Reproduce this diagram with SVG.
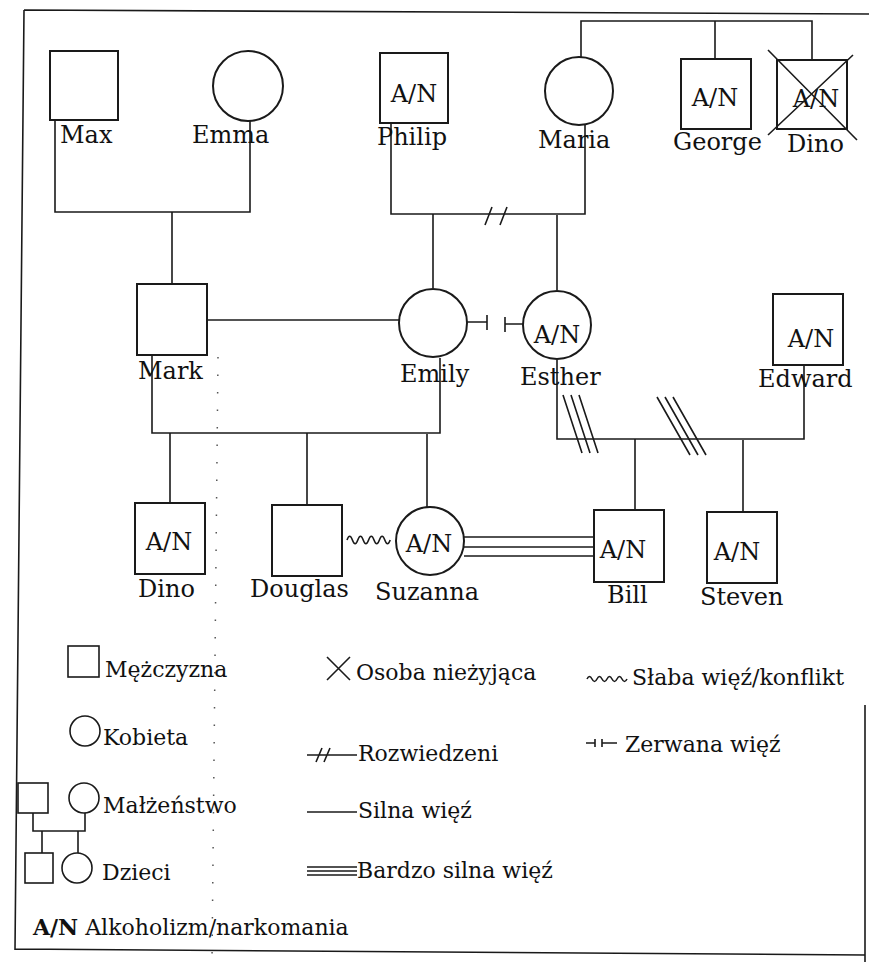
<svg xmlns="http://www.w3.org/2000/svg" width="869" height="965" viewBox="0 0 869 965">
<style>
.s{fill:none;stroke:#1a1a1a;stroke-width:2}
.l{fill:none;stroke:#1a1a1a;stroke-width:1.6}
.t{font-family:"DejaVu Serif","Liberation Serif",serif;font-size:24px;fill:#111}
.g{font-family:"DejaVu Serif","Liberation Serif",serif;font-size:22px;fill:#111}
.m{text-anchor:middle}
</style>
<rect width="869" height="965" fill="#fff"/>
<g id="frame">
<path class="l" d="M24,10 L869,14 M24,10 L15,950 M15,949 L865,955 M865,705 L865,962"/>
<path d="M218,357 L212,960" fill="none" stroke="#555" stroke-width="1.5" stroke-dasharray="1.5,16"/>
</g>
<g id="connectors">
<path class="l" d="M55,120 V212 H250 V121 M172,212 V284"/>
<path class="l" d="M391,123 V214 H585 V125 M433,214 V288 M557,215 V290"/>
<path class="l" d="M492,207 L485,225 M507,207 L500,225"/>
<path class="l" d="M581,57 V21 H812 V60 M715,21 V59"/>
<path class="l" d="M207,320 H399"/>
<path class="l" d="M467,322 H487 M487,315 V330 M505,317 V332 M505,324 H523"/>
<path class="l" d="M152,355 V433 H440 V358 M170,433 V503 M307,433 V505 M427,434 V507"/>
<path class="l" d="M557,360 V439 H804 V365 M635,439 V510 M743,440 V512"/>
<path class="l" d="M563,395 L582,453 M571,395 L590,453 M579,395 L598,453"/>
<path class="l" d="M657,397 L690,455 M665,397 L698,455 M673,397 L706,455"/>
<path class="l" d="M347,540 q2.7,-7.5 5.4,0 t5.4,0 t5.4,0 t5.4,0 t5.4,0 t5.4,0 t5.4,0 t5.4,0"/>
<path class="l" d="M464,537 H594 M464,547 H594 M464,556 H594"/>
</g>
<g id="max"><rect class="s" x="50" y="51" width="68" height="69"/><text class="t" x="60" y="143">Max</text></g>
<g id="emma"><circle class="s" cx="248" cy="86" r="35"/><text class="t" x="192" y="143">Emma</text></g>
<g id="philip"><rect class="s" x="380" y="53" width="68" height="70"/><text class="t m" x="414" y="102">A/N</text><text class="t" x="377" y="145">Philip</text></g>
<g id="maria"><circle class="s" cx="579" cy="91" r="34"/><text class="t" x="538" y="148">Maria</text></g>
<g id="george"><rect class="s" x="681" y="59" width="70" height="70"/><text class="t m" x="715" y="106">A/N</text><text class="t" x="673" y="150">George</text></g>
<g id="dino-deceased"><rect class="s" x="777" y="60" width="70" height="69"/><text class="t m" x="816" y="107">A/N</text><path class="l" d="M768,50 L857,140 M853,55 L768,135"/><text class="t" x="787" y="152">Dino</text></g>
<g id="mark"><rect class="s" x="137" y="284" width="70" height="71"/><text class="t" x="138" y="379">Mark</text></g>
<g id="emily"><circle class="s" cx="433" cy="323" r="34"/><text class="t" x="400" y="382">Emily</text></g>
<g id="esther"><circle class="s" cx="557" cy="325" r="34"/><text class="t m" x="557" y="343">A/N</text><text class="t" x="520" y="385">Esther</text></g>
<g id="edward"><rect class="s" x="773" y="294" width="70" height="71"/><text class="t m" x="811" y="347">A/N</text><text class="t" x="758" y="387">Edward</text></g>
<g id="dino"><rect class="s" x="135" y="503" width="70" height="71"/><text class="t m" x="169" y="550">A/N</text><text class="t" x="138" y="597">Dino</text></g>
<g id="douglas"><rect class="s" x="272" y="505" width="70" height="71"/><text class="t" x="250" y="597">Douglas</text></g>
<g id="suzanna"><circle class="s" cx="430" cy="541" r="34"/><text class="t m" x="429" y="552">A/N</text><text class="t" x="375" y="600">Suzanna</text></g>
<g id="bill"><rect class="s" x="594" y="510" width="70" height="72"/><text class="t m" x="623" y="558">A/N</text><text class="t" x="607" y="603">Bill</text></g>
<g id="steven"><rect class="s" x="707" y="512" width="70" height="71"/><text class="t m" x="737" y="560">A/N</text><text class="t" x="700" y="605">Steven</text></g>
<g id="legend">
<rect class="l" x="68" y="646" width="31" height="31"/><text class="g" x="105" y="677">Mężczyzna</text>
<circle class="l" cx="85" cy="731" r="15"/><text class="g" x="103" y="745">Kobieta</text>
<rect class="l" x="18" y="783" width="30" height="30"/><circle class="l" cx="84" cy="798" r="15"/>
<path class="l" d="M33,813 V831 H85 V813 M42,831 V853 M78,831 V853"/>
<text class="g" x="103" y="813">Małżeństwo</text>
<rect class="l" x="25" y="853" width="28" height="30"/><circle class="l" cx="77" cy="868" r="15"/>
<text class="g" x="102" y="880">Dzieci</text>
<text class="g" x="33" y="935"><tspan font-weight="bold">A/N</tspan> Alkoholizm/narkomania</text>
<path class="l" d="M327,657 L350,680 M350,657 L327,680"/><text class="g" x="356" y="680">Osoba nieżyjąca</text>
<path class="l" d="M307,755 H357 M322,748 L316,762 M330,748 L324,762"/><text class="g" x="358" y="761">Rozwiedzeni</text>
<path class="l" d="M307,812 H357"/><text class="g" x="358" y="818">Silna więź</text>
<path class="l" d="M307,867 H357 M307,871 H357 M307,875 H357"/><text class="g" x="357" y="878">Bardzo silna więź</text>
<path class="l" d="M587,679 q2.5,-5 5,0 t5,0 t5,0 t5,0 t5,0 t5,0 t5,0 t5,0"/><text class="g" x="632" y="685">Słaba więź/konflikt</text>
<path class="l" d="M586,743 H595 M595,739 V747 M602,739 V747 M602,743 H617"/><text class="g" x="625" y="752">Zerwana więź</text>
</g>
</svg>
